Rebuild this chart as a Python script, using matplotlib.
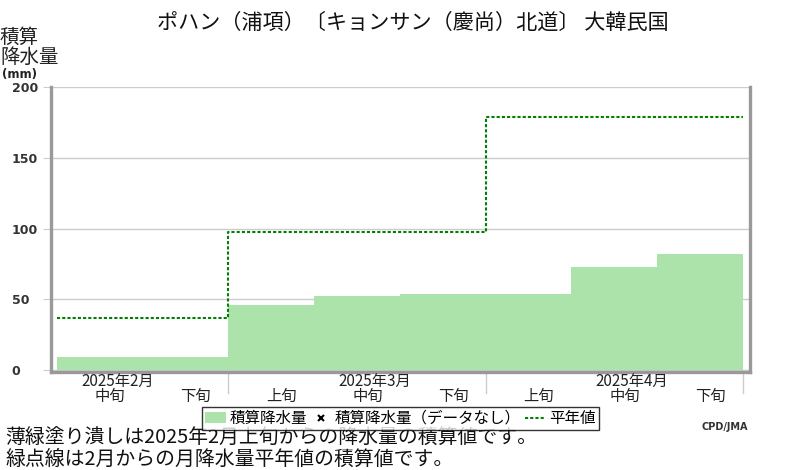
import numpy as np
import matplotlib
matplotlib.use("Agg")
import matplotlib.pyplot as plt
from matplotlib.patches import Patch
from matplotlib.lines import Line2D
from matplotlib.transforms import blended_transform_factory

plt.rcParams['font.family'] = ['Noto Sans CJK JP', 'DejaVu Sans']

# cumulative precipitation per dekad (mm), Feb mid .. Apr late
dekads = ['中旬', '下旬', '上旬', '中旬', '下旬', '上旬', '中旬', '下旬']
accum = [9, 9, 46, 52, 54, 54, 73, 82]
# normal cumulative precipitation per month (mm)
months = ['2025年2月', '2025年3月', '2025年4月']
month_edges = [0, 2, 5, 8]   # dekad index where each month starts / ends
month_label_pos = [0, 3, 6]  # dekad under which month label sits
normal = [37, 97.5, 178.5]

bar_color = '#abe3ab'
line_color = '#008000'
grid_color = '#cccccc'
spine_color = '#999999'

W, H = 800, 470
fig = plt.figure(figsize=(W / 100, H / 100), dpi=100)
ax = fig.add_axes([50.5 / W, 1 - 371.5 / H, 699.5 / W, 284.5 / H])

x = np.arange(len(accum))
ax.bar(x, accum, width=1.0, align='edge', color=bar_color, linewidth=0, zorder=2)

nx = month_edges
ny = normal + [normal[-1]]
ax.plot(nx, ny, drawstyle='steps-post', color=line_color, lw=1.5,
        dashes=(1.5, 1.0), zorder=3)

ax.set_xlim(-0.076, 8.085)
ax.set_ylim(-1, 200)
ax.set_yticks([0, 50, 100, 150, 200])
ax.grid(axis='y', color=grid_color, lw=1, zorder=0)
ax.tick_params(axis='y', length=6, color=grid_color, pad=22)
for lab in ax.get_yticklabels():
    lab.set_horizontalalignment('left')
    lab.set_fontfamily('DejaVu Sans')
    lab.set_fontweight('bold')
    lab.set_fontsize(9)
    lab.set_color('#333333')
ax.set_xticks([])

ax.spines['top'].set_visible(False)
for s in ['left', 'bottom', 'right']:
    ax.spines[s].set_color(spine_color)
    ax.spines[s].set_linewidth(2.4)

# x labels
tr = blended_transform_factory(ax.transData, fig.transFigure)
for i, lab in enumerate(dekads):
    ax.text(i + 0.5 + 0.12, 1 - 396.5 / H, lab, transform=tr, ha='center',
            va='center', fontsize=11, color='#222222')
for pos, lab in zip(month_label_pos, months):
    ax.text(pos + 0.5 + 0.21, 1 - 381 / H, lab, transform=tr, ha='center',
            va='center', fontsize=11, color='#222222')
for xe in month_edges[1:]:
    ax.plot([xe, xe], [1 - 373 / H, 1 - 393 / H], transform=tr, color=grid_color,
            lw=1, clip_on=False)

# title and labels
fig.text(412.5 / W, 1 - 23 / H, 'ポハン（浦項）〔キョンサン（慶尚）北道〕 大韓民国',
         ha='center', va='center', fontsize=15.2, color='#111111')
fig.text(0, 1 - 47.5 / H, '積算\n降水量', ha='left', va='center', fontsize=14,
         linespacing=0.92, color='#222222')
fig.text(2 / W, 1 - 74.5 / H, '(mm)', ha='left', va='center', fontsize=8.5,
         fontweight='bold', family='DejaVu Sans', color='#222222')

handles = [
    Patch(facecolor=bar_color, edgecolor='none'),
    Line2D([], [], marker='x', ls='none', color='black', ms=4, mew=1.5),
    Line2D([], [], color=line_color, lw=1.5, dashes=(1.5, 1.0)),
]
leg = fig.legend(handles, ['積算降水量', '積算降水量（データなし）', '平年値'],
                 loc='center', bbox_to_anchor=(400.5 / W, 1 - 418.5 / H), ncol=3,
                 fontsize=11.2, frameon=True, fancybox=False, edgecolor='black',
                 handlelength=1.3, handletextpad=0.25, columnspacing=0.25,
                 borderpad=0.2, borderaxespad=0)
leg.get_frame().set_linewidth(1)

fig.text(5 / W, 1 - 438 / H, '薄緑塗り潰しは2025年2月上旬からの降水量の積算値です。',
         ha='left', va='center', fontsize=14.3, color='#111111')
fig.text(5 / W, 1 - 459 / H, '緑点線は2月からの月降水量平年値の積算値です。',
         ha='left', va='center', fontsize=14.3, color='#111111')
fig.text(748 / W, 1 - 427 / H, 'CPD/JMA', ha='right', va='center', fontsize=7,
         fontweight='bold', family='DejaVu Sans', color='#333333')

fig.savefig('out.png', dpi=100)
